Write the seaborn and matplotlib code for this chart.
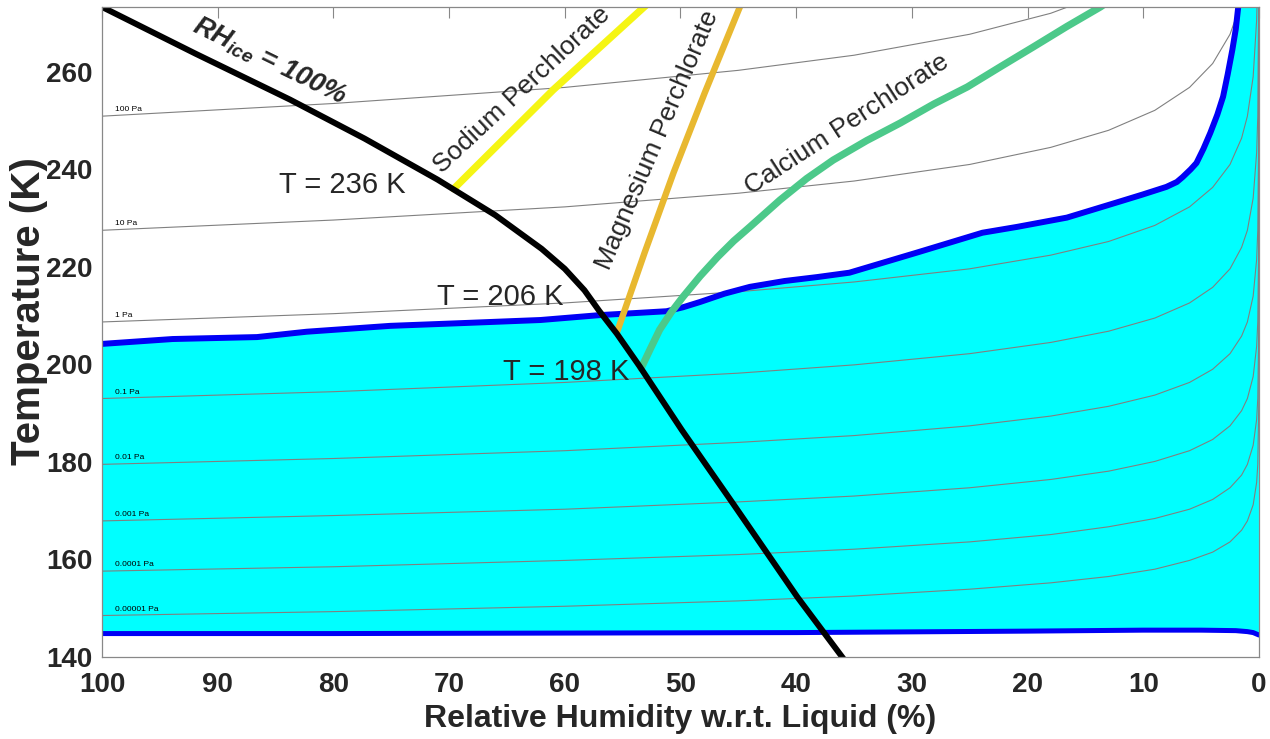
import numpy as np
import pandas as pd
import matplotlib.pyplot as plt
import seaborn as sns

## data: x = RH w.r.t. liquid (%), y = temperature (K)

# isobars (gray), common RH grid, one T list per pressure
rh_grid = [100, 80, 60, 45, 35, 25, 18, 13, 9, 6, 4, 2.5, 1.5, 1, 0.5, 0.2, 0.1,
           0.01, 0.001, 0.0001, 0.00001, 0.000001]
isobar_labels = ['100 Pa', '10 Pa', '1 Pa', '0.1 Pa', '0.01 Pa', '0.001 Pa',
                 '0.0001 Pa', '0.00001 Pa']
isobar_T = [
    [250.9, 253.5, 256.8, 260.3, 263.4, 267.7, 272.0, 276.4, 281.6],
    [227.5, 229.6, 232.3, 235.1, 237.6, 241.0, 244.5, 248.0, 252.1, 256.8, 261.7,
     267.7, 274.4, 280.1],
    [208.7, 210.4, 212.6, 214.9, 216.9, 219.6, 222.4, 225.2, 228.5, 232.3, 236.3,
     241.0, 246.4, 250.9, 259.0, 270.6, 280.1],
    [193.0, 194.4, 196.3, 198.2, 199.9, 202.2, 204.5, 206.8, 209.5, 212.6, 215.8,
     219.6, 224.0, 227.5, 234.1, 243.4, 250.9, 280.1],
    [179.5, 180.7, 182.3, 184.0, 185.4, 187.4, 189.4, 191.4, 193.7, 196.3, 199.0,
     202.2, 205.8, 208.7, 214.0, 221.5, 227.5, 250.9, 280.1],
    [167.9, 169.0, 170.3, 171.8, 173.0, 174.7, 176.4, 178.1, 180.1, 182.3, 184.6,
     187.4, 190.5, 193.0, 197.5, 203.7, 208.7, 227.5, 250.9, 280.1],
    [157.6, 158.5, 159.8, 161.0, 162.1, 163.6, 165.1, 166.7, 168.4, 170.3, 172.3,
     174.7, 177.3, 179.5, 183.4, 188.7, 193.0, 208.7, 227.5, 250.9, 280.1],
    [148.5, 149.3, 150.4, 151.5, 152.5, 153.9, 155.2, 156.5, 158.0, 159.8, 161.5,
     163.6, 166.0, 167.9, 171.2, 175.8, 179.5, 193.0, 208.7, 227.5, 250.9, 280.1],
]

# upper boundary of the cyan region (blue)
upper_rh = [100, 93.9, 86.6, 82.3, 75.1, 68.5, 62.1, 57.0, 51.2, 49.8, 48.3, 46.2,
            44.0, 41.0, 38.2, 35.4, 29.6, 23.9, 20.9, 16.6, 12.3, 10.1, 8.0, 7.1,
            6.6, 5.9, 5.4, 4.8, 4.2, 3.6, 3.1, 2.7, 2.3, 2.0, 1.8, 1.7]
upper_T = [204.2, 205.2, 205.6, 206.7, 207.9, 208.5, 209.1, 210.1, 210.9, 211.7,
           212.8, 214.5, 215.9, 217.1, 217.9, 218.8, 222.9, 227.0, 228.2, 230.1,
           233.2, 234.8, 236.4, 237.4, 238.4, 240.0, 241.3, 244.2, 247.5, 251.2,
           254.9, 259.5, 264.5, 268.8, 273.1, 274.5]

# lower boundary (blue)
lower_rh = [100, 80, 60, 40, 20, 10, 5, 2, 1, 0.5, 0]
lower_T = [144.8, 144.8, 144.9, 145.0, 145.3, 145.5, 145.5, 145.4, 145.2, 145.0, 144.5]

# RH_ice = 100 %
ice_rh = [100, 91.9, 83.75, 77.3, 71.0, 66.0, 62.0, 60.0, 58.3, 57.0, 55.5, 53.5,
          49.9, 45.5, 39.9, 35.9]
ice_T = [273.3, 263.7, 254.3, 246.3, 237.9, 230.6, 223.7, 219.6, 215.2, 210.9,
         206.3, 199.5, 186.6, 171.6, 152.3, 139.6]

# perchlorate eutectic lines
na_rh = [69.6, 61.0, 53.0]
na_T = [236.0, 256.3, 273.6]
mg_rh = [55.5, 53.1, 50.6, 47.9, 44.9, 44.7]
mg_T = [206.5, 222.9, 239.3, 255.7, 273.1, 274.2]
ca_rh = [53.4, 52.6, 51.8, 50.8, 49.8, 48.3, 46.8, 45.4, 44.0, 41.4, 39.1, 36.8,
         33.9, 31.0, 28.1, 25.2, 22.3, 19.5, 16.6, 13.7, 13.4]
ca_T = [199.2, 203.2, 207.1, 210.7, 213.8, 218.1, 222.0, 225.3, 228.2, 233.7, 238.1,
        241.9, 245.9, 249.5, 253.4, 256.9, 261.1, 265.1, 269.3, 273.3, 273.8]

T_TOP = 273.3

sns.set_style('white')
plt.rcParams['font.family'] = ['Liberation Sans', 'DejaVu Sans']
plt.rcParams['mathtext.fontset'] = 'custom'
plt.rcParams['mathtext.it'] = 'Liberation Sans:italic:bold'
plt.rcParams['mathtext.rm'] = 'Liberation Sans:bold'

fig = plt.figure(figsize=(12.7, 7.39), dpi=100)
ax = fig.add_axes([0.0803, 0.111, 0.9110, 0.8796])

## cyan region: upper edge left->right, top-right corner, lower edge right->left
poly_x = list(upper_rh) + [0] + list(lower_rh)[::-1]
poly_y = list(upper_T) + [T_TOP + 2] + list(lower_T)[::-1]
ax.fill(poly_x, poly_y, color='#00FFFF', lw=0, zorder=1)

## isobars
rows = []
for lab, tt in zip(isobar_labels, isobar_T):
    for r, t in zip(rh_grid, tt):
        rows.append({'rh': r, 'T': t, 'p': lab})
iso = pd.DataFrame(rows)
sns.lineplot(data=iso, x='rh', y='T', units='p', estimator=None, sort=False,
             color='#808080', lw=0.8, ax=ax, zorder=2, legend=False)
for lab, tt in zip(isobar_labels, isobar_T):
    ax.text(98.9, tt[0] + 0.6, lab, fontsize=6, va='bottom', ha='left',
            color='black', zorder=3)

## blue boundaries
sns.lineplot(x=upper_rh, y=upper_T, sort=False, estimator=None, color='#0000F5',
             lw=4.3, ax=ax, zorder=4)
sns.lineplot(x=lower_rh, y=lower_T, sort=False, estimator=None, color='#0000F5',
             lw=3.6, ax=ax, zorder=4)

## perchlorates
sns.lineplot(x=na_rh, y=na_T, sort=False, estimator=None, color='#F5F514', lw=5.2,
             ax=ax, zorder=5)
sns.lineplot(x=mg_rh, y=mg_T, sort=False, estimator=None, color='#E8B830', lw=4.6,
             ax=ax, zorder=5)
sns.lineplot(x=ca_rh, y=ca_T, sort=False, estimator=None, color='#4CC98A', lw=5.2,
             ax=ax, zorder=5)

## ice saturation
sns.lineplot(x=ice_rh, y=ice_T, sort=False, estimator=None, color='black', lw=4.3,
             ax=ax, zorder=6)

## annotations
ax.text(85.5, 262.1, r'$RH_{ice}$ = 100%', fontsize=19.5, fontweight='bold',
        fontstyle='italic', rotation=-26, rotation_mode='anchor', ha='center',
        va='center', zorder=7)
ax.text(63.7, 256.3, 'Sodium Perchlorate', fontsize=19, rotation=43,
        rotation_mode='anchor', ha='center', va='center', zorder=7)
ax.text(52.0, 246.1, 'Magnesium Perchlorate', fontsize=19, rotation=67,
        rotation_mode='anchor', ha='center', va='center', zorder=7)
ax.text(35.6, 249.3, 'Calcium Perchlorate', fontsize=19, rotation=33,
        rotation_mode='anchor', ha='center', va='center', zorder=7)
ax.text(79.2, 236.8, 'T = 236 K', fontsize=21, ha='center', va='center', zorder=7)
ax.text(65.6, 213.8, 'T = 206 K', fontsize=21, ha='center', va='center', zorder=7)
ax.text(59.9, 198.5, 'T = 198 K', fontsize=21, ha='center', va='center', zorder=7)

## axes styling
ax.set_xlim(100, 0)
ax.set_ylim(140, T_TOP)
ax.set_xticks(np.arange(100, -1, -10))
ax.set_yticks(np.arange(140, 261, 20))
for s in ax.spines.values():
    s.set_color('#888888')
    s.set_linewidth(0.9)
    s.set_zorder(8)
ax.tick_params(axis='both', direction='in', length=8, width=0.8, color='#888888',
               labelsize=20, labelcolor='#262626')
ax.tick_params(axis='x', top=True, pad=11)
ax.tick_params(axis='y', right=False, pad=7)
for lbl in ax.get_xticklabels() + ax.get_yticklabels():
    lbl.set_fontweight('bold')
ax.set_xlabel('Relative Humidity w.r.t. Liquid (%)', fontsize=23, fontweight='bold',
              labelpad=4)
ax.set_ylabel('Temperature (K)', fontsize=29, fontweight='bold')
ax.yaxis.set_label_coords(-0.047, 0.532)

fig.savefig('out.png', dpi=100)
